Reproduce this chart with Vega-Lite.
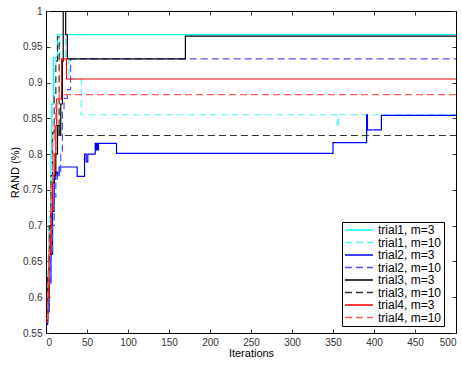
{
  "$schema": "https://vega.github.io/schema/vega-lite/v6.json",
  "width": 410,
  "height": 322,
  "autosize": {"type": "none"},
  "padding": {"left": 46, "top": 11, "right": 6, "bottom": 32},
  "background": "white",
  "config": {
    "view": {"stroke": "black", "strokeWidth": 1},
    "font": "Liberation Sans",
    "axis": {
      "grid": false,
      "domainColor": "black",
      "tickColor": "#333333",
      "tickSize": -4,
      "labelFont": "Liberation Sans",
      "labelFontSize": 10,
      "labelColor": "#333333",
      "titleFont": "Liberation Sans",
      "titleFontSize": 11,
      "titleFontWeight": "normal",
      "titleColor": "black"
    }
  },
  "data": {
    "values": [
      {"series": "trial1, m=3", "x": 0, "y": 0.565},
      {"series": "trial1, m=3", "x": 2, "y": 0.62},
      {"series": "trial1, m=3", "x": 4, "y": 0.7},
      {"series": "trial1, m=3", "x": 6, "y": 0.8},
      {"series": "trial1, m=3", "x": 7, "y": 0.87},
      {"series": "trial1, m=3", "x": 9, "y": 0.935},
      {"series": "trial1, m=3", "x": 14, "y": 0.967},
      {"series": "trial1, m=3", "x": 500, "y": 0.967},

      {"series": "trial1, m=10", "x": 0, "y": 0.57},
      {"series": "trial1, m=10", "x": 2, "y": 0.64},
      {"series": "trial1, m=10", "x": 4, "y": 0.72},
      {"series": "trial1, m=10", "x": 6, "y": 0.8},
      {"series": "trial1, m=10", "x": 8, "y": 0.87},
      {"series": "trial1, m=10", "x": 10, "y": 0.92},
      {"series": "trial1, m=10", "x": 12, "y": 0.935},
      {"series": "trial1, m=10", "x": 17, "y": 0.967},
      {"series": "trial1, m=10", "x": 24, "y": 0.935},
      {"series": "trial1, m=10", "x": 28, "y": 0.905},
      {"series": "trial1, m=10", "x": 43, "y": 0.855},
      {"series": "trial1, m=10", "x": 355, "y": 0.838},
      {"series": "trial1, m=10", "x": 357, "y": 0.855},
      {"series": "trial1, m=10", "x": 500, "y": 0.855},

      {"series": "trial2, m=3", "x": 0, "y": 0.562},
      {"series": "trial2, m=3", "x": 2, "y": 0.58},
      {"series": "trial2, m=3", "x": 4, "y": 0.62},
      {"series": "trial2, m=3", "x": 6, "y": 0.66},
      {"series": "trial2, m=3", "x": 8, "y": 0.72},
      {"series": "trial2, m=3", "x": 10, "y": 0.765},
      {"series": "trial2, m=3", "x": 12, "y": 0.775},
      {"series": "trial2, m=3", "x": 14, "y": 0.772},
      {"series": "trial2, m=3", "x": 16, "y": 0.782},
      {"series": "trial2, m=3", "x": 38, "y": 0.769},
      {"series": "trial2, m=3", "x": 47, "y": 0.8},
      {"series": "trial2, m=3", "x": 49, "y": 0.789},
      {"series": "trial2, m=3", "x": 51, "y": 0.8},
      {"series": "trial2, m=3", "x": 60, "y": 0.815},
      {"series": "trial2, m=3", "x": 61, "y": 0.806},
      {"series": "trial2, m=3", "x": 62, "y": 0.815},
      {"series": "trial2, m=3", "x": 63, "y": 0.806},
      {"series": "trial2, m=3", "x": 64, "y": 0.815},
      {"series": "trial2, m=3", "x": 86, "y": 0.801},
      {"series": "trial2, m=3", "x": 350, "y": 0.816},
      {"series": "trial2, m=3", "x": 391, "y": 0.855},
      {"series": "trial2, m=3", "x": 392, "y": 0.834},
      {"series": "trial2, m=3", "x": 409, "y": 0.854},
      {"series": "trial2, m=3", "x": 500, "y": 0.854},

      {"series": "trial2, m=10", "x": 0, "y": 0.565},
      {"series": "trial2, m=10", "x": 2, "y": 0.58},
      {"series": "trial2, m=10", "x": 4, "y": 0.62},
      {"series": "trial2, m=10", "x": 6, "y": 0.66},
      {"series": "trial2, m=10", "x": 8, "y": 0.7},
      {"series": "trial2, m=10", "x": 10, "y": 0.74},
      {"series": "trial2, m=10", "x": 12, "y": 0.76},
      {"series": "trial2, m=10", "x": 14, "y": 0.77},
      {"series": "trial2, m=10", "x": 18, "y": 0.8},
      {"series": "trial2, m=10", "x": 20, "y": 0.86},
      {"series": "trial2, m=10", "x": 22, "y": 0.878},
      {"series": "trial2, m=10", "x": 26, "y": 0.89},
      {"series": "trial2, m=10", "x": 30, "y": 0.933},
      {"series": "trial2, m=10", "x": 500, "y": 0.933},

      {"series": "trial3, m=3", "x": 0, "y": 0.57},
      {"series": "trial3, m=3", "x": 2, "y": 0.6},
      {"series": "trial3, m=3", "x": 4, "y": 0.66},
      {"series": "trial3, m=3", "x": 6, "y": 0.72},
      {"series": "trial3, m=3", "x": 8, "y": 0.76},
      {"series": "trial3, m=3", "x": 10, "y": 0.77},
      {"series": "trial3, m=3", "x": 12, "y": 0.8},
      {"series": "trial3, m=3", "x": 14, "y": 0.84},
      {"series": "trial3, m=3", "x": 16, "y": 0.826},
      {"series": "trial3, m=3", "x": 18, "y": 0.87},
      {"series": "trial3, m=3", "x": 20, "y": 0.93},
      {"series": "trial3, m=3", "x": 21, "y": 1.0},
      {"series": "trial3, m=3", "x": 24, "y": 0.967},
      {"series": "trial3, m=3", "x": 26, "y": 0.933},
      {"series": "trial3, m=3", "x": 170, "y": 0.965},
      {"series": "trial3, m=3", "x": 500, "y": 0.965},

      {"series": "trial3, m=10", "x": 0, "y": 0.575},
      {"series": "trial3, m=10", "x": 2, "y": 0.63},
      {"series": "trial3, m=10", "x": 4, "y": 0.7},
      {"series": "trial3, m=10", "x": 6, "y": 0.77},
      {"series": "trial3, m=10", "x": 8, "y": 0.83},
      {"series": "trial3, m=10", "x": 10, "y": 0.88},
      {"series": "trial3, m=10", "x": 12, "y": 0.93},
      {"series": "trial3, m=10", "x": 14, "y": 0.964},
      {"series": "trial3, m=10", "x": 16, "y": 0.826},
      {"series": "trial3, m=10", "x": 500, "y": 0.826},

      {"series": "trial4, m=3", "x": 0, "y": 0.565},
      {"series": "trial4, m=3", "x": 2, "y": 0.6},
      {"series": "trial4, m=3", "x": 4, "y": 0.66},
      {"series": "trial4, m=3", "x": 6, "y": 0.72},
      {"series": "trial4, m=3", "x": 8, "y": 0.77},
      {"series": "trial4, m=3", "x": 10, "y": 0.8},
      {"series": "trial4, m=3", "x": 12, "y": 0.84},
      {"series": "trial4, m=3", "x": 13, "y": 0.877},
      {"series": "trial4, m=3", "x": 19, "y": 0.933},
      {"series": "trial4, m=3", "x": 25, "y": 0.905},
      {"series": "trial4, m=3", "x": 500, "y": 0.905},

      {"series": "trial4, m=10", "x": 0, "y": 0.57},
      {"series": "trial4, m=10", "x": 2, "y": 0.62},
      {"series": "trial4, m=10", "x": 4, "y": 0.69},
      {"series": "trial4, m=10", "x": 6, "y": 0.76},
      {"series": "trial4, m=10", "x": 8, "y": 0.82},
      {"series": "trial4, m=10", "x": 10, "y": 0.85},
      {"series": "trial4, m=10", "x": 12, "y": 0.87},
      {"series": "trial4, m=10", "x": 16, "y": 0.883},
      {"series": "trial4, m=10", "x": 500, "y": 0.883}
    ]
  },
  "layer": [
    {
      "mark": {"type": "line", "interpolate": "step-after", "strokeWidth": 1.2, "clip": true},
      "encoding": {
        "x": {"field": "x", "type": "quantitative", "scale": {"domain": [0, 500], "nice": false},
          "axis": {"orient": "bottom", "values": [0, 50, 100, 150, 200, 250, 300, 350, 400, 450, 500], "title": "Iterations", "labelPadding": 8, "titlePadding": 0}},
        "y": {"field": "y", "type": "quantitative", "scale": {"domain": [0.55, 1], "nice": false, "zero": false},
          "axis": {"orient": "left", "values": [0.55, 0.6, 0.65, 0.7, 0.75, 0.8, 0.85, 0.9, 0.95, 1], "format": "~g", "title": "RAND (%)", "labelPadding": 8, "titlePadding": 2}},
        "color": {"field": "series", "type": "nominal",
          "scale": {"domain": ["trial1, m=3", "trial1, m=10", "trial2, m=3", "trial2, m=10", "trial3, m=3", "trial3, m=10", "trial4, m=3", "trial4, m=10"],
                    "range": ["#00ffff", "#55f2f2", "#0000ff", "#5050ff", "#000000", "#333333", "#ff0000", "#ff5a5a"]},
          "legend": {"title": null, "orient": "none", "legendX": 296, "legendY": 211, "strokeColor": "black", "fillColor": "white", "padding": 2, "symbolType": "stroke", "symbolSize": 784, "symbolStrokeWidth": 1.3, "labelFontSize": 12, "labelColor": "black", "labelFont": "Liberation Sans", "labelOffset": 4, "clipHeight": 12, "rowPadding": 0.5, "cornerRadius": 0}},
        "strokeDash": {"field": "series", "type": "nominal",
          "scale": {"domain": ["trial1, m=3", "trial1, m=10", "trial2, m=3", "trial2, m=10", "trial3, m=3", "trial3, m=10", "trial4, m=3", "trial4, m=10"],
                    "range": [[1, 0], [7, 4], [1, 0], [7, 4], [1, 0], [7, 4], [1, 0], [7, 4]]}}
      }
    },
    {
      "mark": {"type": "point", "opacity": 0},
      "encoding": {
        "x": {"field": "x", "type": "quantitative", "scale": {"domain": [0, 500], "nice": false},
          "axis": {"orient": "top", "values": [0, 50, 100, 150, 200, 250, 300, 350, 400, 450, 500], "labels": false, "title": null}},
        "y": {"field": "y", "type": "quantitative", "scale": {"domain": [0.55, 1], "nice": false, "zero": false},
          "axis": {"orient": "right", "values": [0.55, 0.6, 0.65, 0.7, 0.75, 0.8, 0.85, 0.9, 0.95, 1], "labels": false, "title": null}}
      }
    }
  ],
  "resolve": {"axis": {"x": "independent", "y": "independent"}}
}
